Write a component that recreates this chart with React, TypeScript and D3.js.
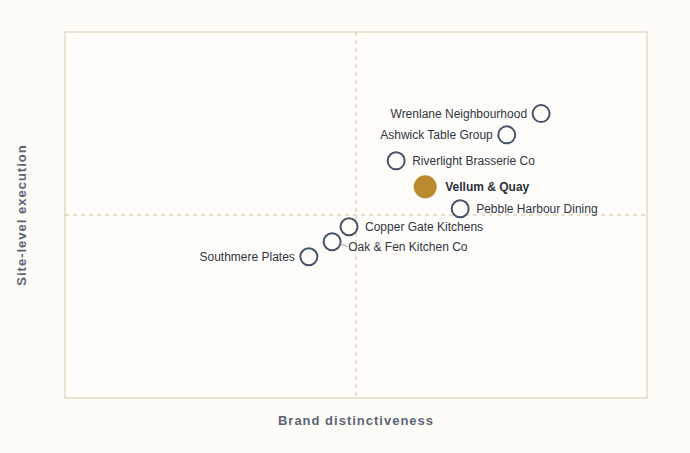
import React from "react";
import * as d3 from "d3";

const names = [
  "Wrenlane Neighbourhood",
  "Ashwick Table Group",
  "Riverlight Brasserie Co",
  "Vellum & Quay",
  "Pebble Harbour Dining",
  "Copper Gate Kitchens",
  "Oak & Fen Kitchen Co",
  "Southmere Plates",
];
const brandValues = [81.8, 75.9, 56.9, 61.9, 67.9, 48.8, 45.9, 41.9];
const executionValues = [77.7, 71.9, 64.8, 57.7, 51.7, 46.8, 42.7, 38.6];
const labelSides = ["left", "left", "right", "right", "right", "right", "leader", "left"];
const highlight = "Vellum & Quay";

const W = 690, H = 453;
const M = { left: 65, right: 43, top: 32, bottom: 55 };

export default function App() {
  const x = d3.scaleLinear().domain([0, 100]).range([M.left, W - M.right]);
  const y = d3.scaleLinear().domain([0, 100]).range([H - M.bottom, M.top]);
  const xm = x(50), ym = y(50);
  const border = "#ddd2bb";
  const ink = "#465266";
  const bg = "#fdfcf7";
  return (
    <svg width={W} height={H} style={{ position: "absolute", left: 0, top: 0, background: bg }}
      fontFamily="'Liberation Sans', Arial, sans-serif">
      <rect x={0} y={0} width={W} height={H} fill={bg} />
      <rect x={M.left} y={M.top} width={x(100) - x(0)} height={y(0) - y(100)} fill="#fefdf9" stroke={border} strokeWidth={1.2} />
      <line x1={xm} x2={xm} y1={y(100)} y2={y(0)} stroke="#d3bf98" strokeDasharray="4,4" strokeWidth={1} />
      <line x1={x(0)} x2={x(100)} y1={ym} y2={ym} stroke="#d3bf98" strokeDasharray="4,4" strokeWidth={1} />
      {names.map((n, i) => {
        const cx = x(brandValues[i]), cy = y(executionValues[i]);
        const isH = n === highlight;
        const side = labelSides[i];
        let label;
        if (side === "left") {
          label = <text x={cx - 14} y={cy} dy="0.35em" textAnchor="end" fontSize={12} fill="#2f3642">{n}</text>;
        } else if (side === "right") {
          label = <text x={cx + (isH ? 20 : 16)} y={cy} dy="0.35em" fontSize={12} fill={isH ? "#2b303a" : "#2f3642"} fontWeight={isH ? 700 : 400}>{n}</text>;
        } else {
          label = (
            <g>
              <line x1={cx + 8} y1={cy + 2} x2={cx + 15} y2={cy + 5} stroke="#9aa0a8" strokeWidth={1} />
              <text x={cx + 16} y={cy + 5} dy="0.35em" fontSize={12} fill="#2f3642">{n}</text>
            </g>
          );
        }
        return (
          <g key={n}>
            {isH ? (
              <circle cx={cx} cy={cy} r={11.5} fill="#b98a2f" />
            ) : (
              <circle cx={cx} cy={cy} r={8.5} fill="#fefdf9" stroke={ink} strokeWidth={2} />
            )}
            {label}
          </g>
        );
      })}
      <text x={(x(0) + x(100)) / 2} y={425} textAnchor="middle" fontSize={13} fontWeight={700} fill="#5b6577" letterSpacing={1}>Brand distinctiveness</text>
      <text transform={`translate(26,${(y(0) + y(100)) / 2}) rotate(-90)`} textAnchor="middle" fontSize={13} fontWeight={700} fill="#5b6577" letterSpacing={1}>Site-level execution</text>
    </svg>
  );
}
